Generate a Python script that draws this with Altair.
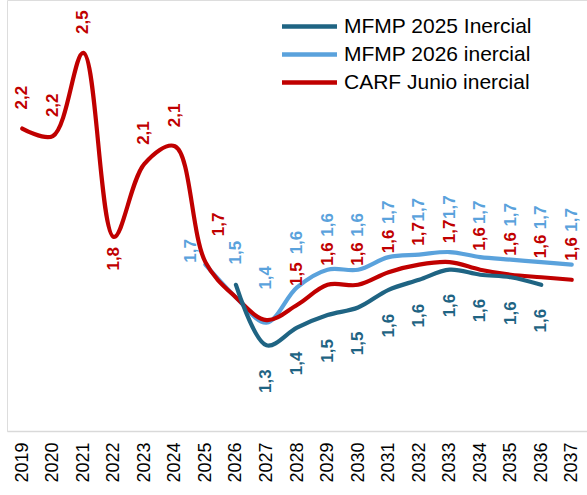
import altair as alt
import pandas as pd

years = [str(y) for y in range(2019, 2038)]

series_names = ["MFMP 2025 Inercial", "MFMP 2026 inercial", "CARF Junio inercial"]
series_colors = ["#1F6483", "#5AA2DC", "#C00000"]

# values per series (None = no data)
mfmp2025 = [None, None, None, None, None, None, None,
            1.58, 1.34, 1.41, 1.46, 1.49, 1.56, 1.60, 1.64, 1.62, 1.61, 1.58, None]
mfmp2026 = [None, None, None, None, None, None, 1.66,
            1.53, 1.43, 1.57, 1.64, 1.64, 1.69, 1.70, 1.71, 1.69, 1.68, 1.67, 1.66]
carf = [2.20, 2.17, 2.50, 1.77, 2.06, 2.13, 1.67,
        1.53, 1.44, 1.50, 1.58, 1.58, 1.63, 1.66, 1.67, 1.64, 1.62, 1.61, 1.60]

rows = []
# draw order: light blue, red, dark
for name, vals in [(series_names[1], mfmp2026), (series_names[2], carf), (series_names[0], mfmp2025)]:
    for y, v in zip(years, vals):
        if v is not None:
            rows.append({"year": y, "series": name, "value": v})
df = pd.DataFrame(rows)

FONT = "Liberation Sans"

x_enc = alt.X("year:N", sort=years,
              scale=alt.Scale(domain=years, paddingInner=0, paddingOuter=0),
              axis=alt.Axis(title=None, labelAngle=270, labelFontSize=18, labelFont=FONT,
                            labelColor="#000000", ticks=False, domainColor="#D9D9D9",
                            domainWidth=1.5, labelPadding=11, grid=False))
y_enc = alt.Y("value:Q", scale=alt.Scale(domain=[1.0, 2.71], zero=False, nice=False),
              axis=None)
color_enc = alt.Color("series:N",
                      scale=alt.Scale(domain=series_names, range=series_colors),
                      legend=alt.Legend(title=None, orient="none", legendX=292, legendY=16,
                                        symbolType="M-4,0L4,0", symbolSize=189,
                                        symbolStrokeWidth=4.5, labelFontSize=21,
                                        labelFont=FONT, labelColor="#000000",
                                        labelOffset=24, rowPadding=6, padding=0,
                                        labelLimit=400))

base = alt.Chart(df).encode(x=x_enc, y=y_enc)

lines = base.mark_line(interpolate="catmull-rom", strokeWidth=4.2, strokeCap="round").encode(
    color=color_enc)

lab = base.transform_calculate(
    label="replace(format(datum.value, '.1f'), '.', ',')")

text_color = alt.Color("series:N", scale=alt.Scale(domain=series_names, range=series_colors),
                       legend=None)

common = dict(angle=270, fontSize=17, fontWeight="bold", font=FONT, baseline="middle")

red_above = lab.transform_filter(
    "datum.series == 'CARF Junio inercial' && datum.year != '2022' && datum.year != '2025' && datum.year != '2026' && datum.year != '2027'"
).mark_text(align="left", dx=19, **common).encode(text="label:N", color=text_color)

red_below = lab.transform_filter(
    "datum.series == 'CARF Junio inercial' && datum.year == '2022'"
).mark_text(align="right", dx=-10, **common).encode(text="label:N", color=text_color)

red_shift = lab.transform_filter(
    "datum.series == 'CARF Junio inercial' && datum.year == '2025'"
).mark_text(align="left", dx=26, dy=14, **common).encode(text="label:N", color=text_color)

lb_above = lab.transform_filter(
    "datum.series == 'MFMP 2026 inercial' && datum.year != '2025'"
).mark_text(align="left", dx=33, **common).encode(text="label:N", color=text_color)

lb_shift = lab.transform_filter(
    "datum.series == 'MFMP 2026 inercial' && datum.year == '2025'"
).mark_text(align="left", dx=2, dy=-14, **common).encode(text="label:N", color=text_color)

dark_below = lab.transform_filter(
    "datum.series == 'MFMP 2025 Inercial' && datum.year != '2026'"
).mark_text(align="right", dx=-24, **common).encode(text="label:N", color=text_color)

chart = alt.layer(lines, red_above, red_below, red_shift, lb_above, lb_shift, dark_below).properties(
    width=580, height=431,
    autosize=alt.AutoSizeParams(type="none"),
    padding={"left": 7, "top": 0, "right": 0, "bottom": 64},
).configure_view(stroke=None).configure(background="white")

chart.save("out.html", embed_options={"renderer": "svg", "actions": False})
